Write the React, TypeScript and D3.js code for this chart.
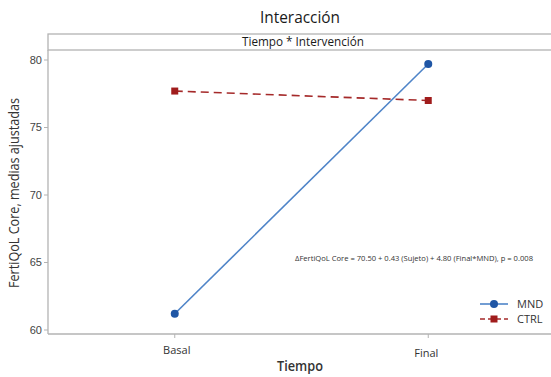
import React from 'react';
import * as d3 from 'd3';

const tiempos = ['Basal', 'Final'];
const mndValues = [61.2, 79.7];
const ctrlValues = [77.7, 77.0];
const yTicks = [60, 65, 70, 75, 80];
const series = [
  { name: 'MND', values: mndValues, line: '#4f84c8', marker: '#1f56a5', dash: '', shape: 'circle' },
  { name: 'CTRL', values: ctrlValues, line: '#a52a2a', marker: '#a01c1c', dash: '8,5', shape: 'square' },
];
const annotation = '\u0394FertiQoL Core =  70.50 + 0.43 (Sujeto) + 4.80 (Final*MND), p = 0.008';

const W = 551;
const H = 377;
const left = 48;
const right = 555;
const plotTop = 50;
const plotBottom = 334;
const stripTop = 34;
const frame = '#b3b3b3';
const sans = '"Open Sans", "Noto Sans", sans-serif';

const App: React.FC = () => {
  const x = d3.scalePoint<string>().domain(tiempos).range([left, right]).padding(0.5);
  const y = d3.scaleLinear().domain([60, 80]).range([330, 60]);

  const line = d3
    .line<number>()
    .x((_, i) => x(tiempos[i]) as number)
    .y((d) => y(d));

  const marker = (shape: string, cx: number, cy: number, fill: string, r = 4) =>
    shape === 'circle' ? (
      <circle cx={cx} cy={cy} r={r} fill={fill} />
    ) : (
      <rect x={cx - r + 0.5} y={cy - r + 0.5} width={2 * r - 1} height={2 * r - 1} fill={fill} />
    );

  return (
    <svg width={W} height={H} style={{ position: 'absolute', left: 0, top: 0, background: '#fff' }}>
      {/* title */}
      <text x={300} y={23} textAnchor="middle" fontFamily={sans} fontSize={17} fill="#1a1a1a"
        textLength={80} lengthAdjust="spacingAndGlyphs">
        Interacción
      </text>

      {/* strip */}
      <rect x={left} y={stripTop} width={right - left} height={plotTop - stripTop} fill="#fff" stroke={frame} strokeWidth={1.3} />
      <text x={303} y={46} textAnchor="middle" fontFamily={sans} fontSize={12} fill="#1a1a1a"
        textLength={122} lengthAdjust="spacingAndGlyphs">
        Tiempo * Intervención
      </text>

      {/* frame */}
      <line x1={left} x2={left} y1={plotTop} y2={plotBottom} stroke={frame} strokeWidth={1.3} />
      <line x1={left} x2={right} y1={plotBottom} y2={plotBottom} stroke={frame} strokeWidth={1.3} />

      {/* y axis */}
      {yTicks.map((t) => (
        <g key={t}>
          <line x1={left - 4} x2={left} y1={y(t)} y2={y(t)} stroke={frame} />
          <text x={42} y={y(t)} dy="0.35em" textAnchor="end" fontFamily='"Liberation Sans", Arial, sans-serif'
            fontSize={11} fill="#444">
            {t}
          </text>
        </g>
      ))}
      <text transform={`translate(19,${193}) rotate(-90)`} textAnchor="middle" fontFamily={sans}
        fontSize={14} fill="#333" textLength={190} lengthAdjust="spacingAndGlyphs">
        FertiQoL Core, medias ajustadas
      </text>

      {/* x axis */}
      {tiempos.map((t, i) => (
        <g key={t}>
          <line x1={x(t)} x2={x(t)} y1={plotBottom} y2={plotBottom + 4} stroke={frame} />
          <text x={(x(t) as number) + (i === 0 ? 2 : -2)} y={i === 0 ? 354 : 357} textAnchor="middle"
            fontFamily={sans} fontSize={11} fill="#333">
            {t}
          </text>
        </g>
      ))}
      <text x={300} y={371} textAnchor="middle" fontFamily={sans} fontSize={15} fontWeight={600} fill="#333"
        textLength={46} lengthAdjust="spacingAndGlyphs">
        Tiempo
      </text>

      {/* series */}
      {series.map((s) => (
        <g key={s.name}>
          <path d={line(s.values) as string} fill="none" stroke={s.line} strokeWidth={1.6} strokeDasharray={s.dash} />
          {s.values.map((v, i) => (
            <g key={i}>{marker(s.shape, x(tiempos[i]) as number, y(v), s.marker)}</g>
          ))}
        </g>
      ))}

      {/* annotation */}
      <text x={295} y={261} fontFamily={sans} fontSize={7.5} fill="#333" textLength={238} lengthAdjust="spacingAndGlyphs">
        {annotation}
      </text>

      {/* legend */}
      {series.map((s, i) => {
        const ly = 304 + i * 15;
        return (
          <g key={s.name}>
            <line x1={480} x2={508} y1={ly} y2={ly} stroke={s.line} strokeWidth={1.6} strokeDasharray={s.dash ? '5,3' : ''} />
            {marker(s.shape, 494, ly, s.marker, 4)}
            <text x={517} y={ly} dy="0.35em" fontFamily={sans} fontSize={11} fill="#333">
              {s.name}
            </text>
          </g>
        );
      })}
    </svg>
  );
};

export default App;
